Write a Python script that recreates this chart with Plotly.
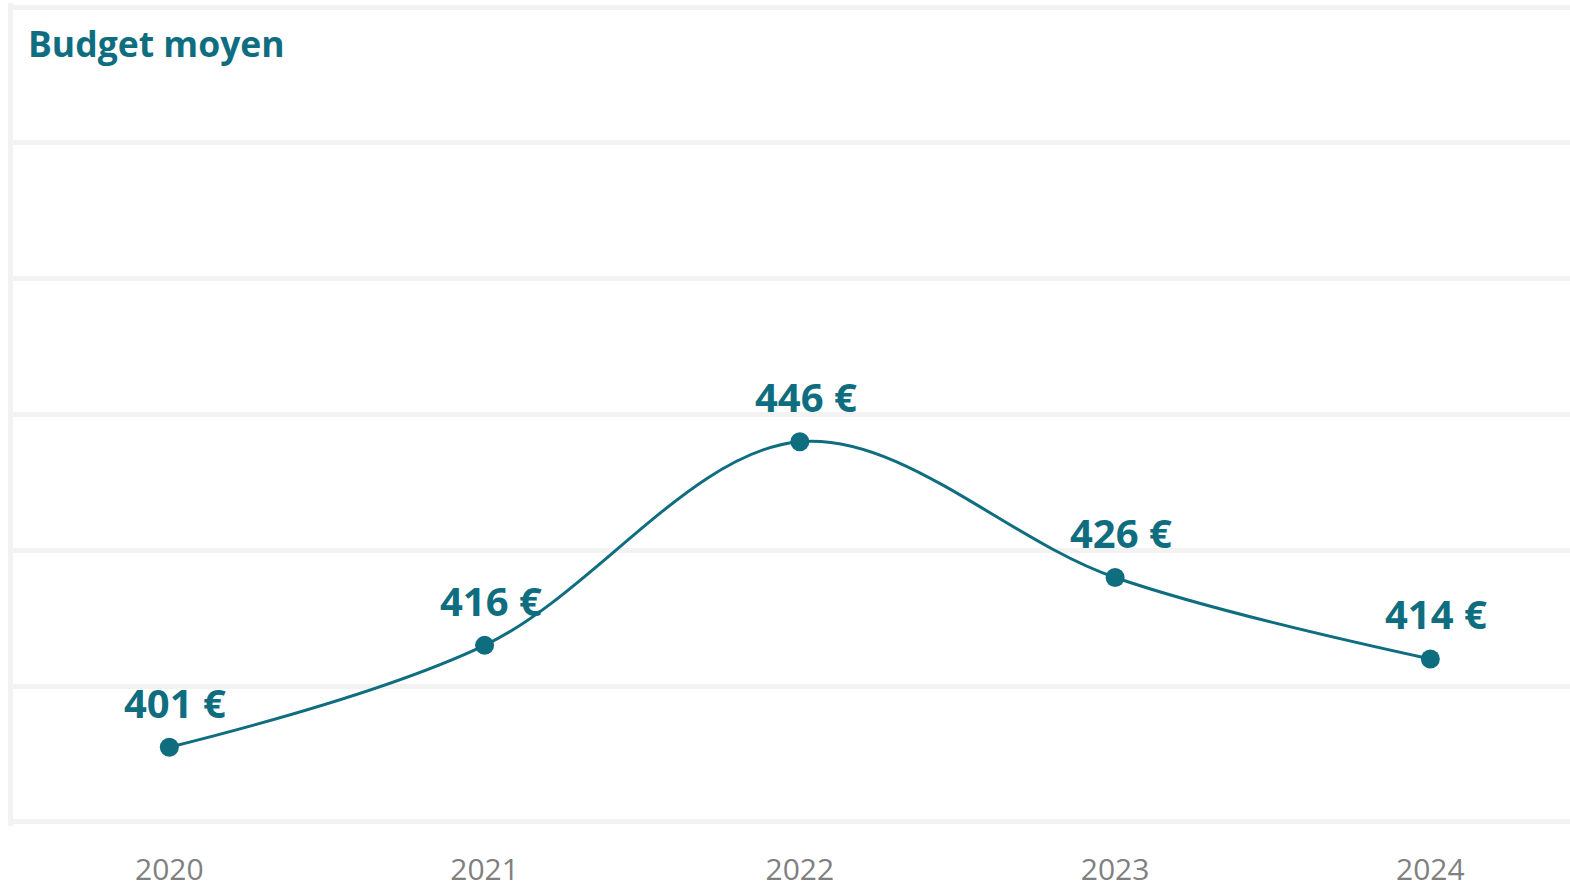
import plotly.graph_objects as go

years = ["2020", "2021", "2022", "2023", "2024"]
budget = [401, 416, 446, 426, 414]
labels = ["401 €", "416 €", "446 €", "426 €", "414 €"]
title_text = "Budget moyen"

TEAL = "#0f6d80"
GRID = "#f2f2f2"
FONT = "Open Sans"

fig = go.Figure()
fig.add_trace(go.Scatter(
    x=years, y=budget, mode="lines+markers",
    line=dict(color=TEAL, width=3, shape="spline", smoothing=1.0),
    marker=dict(color=TEAL, size=19),
    hoverinfo="skip", showlegend=False,
))

for i, (v, t) in enumerate(zip(budget, labels)):
    fig.add_annotation(x=i, y=v, xref="x", yref="y", text="<b>%s</b>" % t,
                       showarrow=False, xshift=6, yshift=45,
                       font=dict(family=FONT, size=40, color=TEAL))

fig.update_layout(
    width=1570, height=883,
    margin=dict(l=13, r=0, t=3, b=57),
    paper_bgcolor="white", plot_bgcolor="white",
    title=dict(text="<b>%s</b>" % title_text, xref="container", yref="container",
               x=28/1570, y=1-45/883, xanchor="left", yanchor="middle",
               font=dict(family=FONT, size=35.5, color=TEAL)),
    xaxis=dict(type="category", range=[-0.496, 4.443], showgrid=False,
               showline=False, zeroline=False, automargin=False,
               tickfont=dict(family=FONT, size=30, color="#808080"),
               ticks="", ticklabelstandoff=23),
    yaxis=dict(range=[389.4, 510.6], tick0=390, dtick=20, showgrid=True,
               gridcolor=GRID, gridwidth=5, zeroline=False, automargin=False,
               showticklabels=False, ticks="",
               showline=True, linecolor=GRID, linewidth=5),
)

fig.write_html("out.html", config={"displayModeBar": False},
               post_script="document.body.style.margin='0';document.body.style.overflow='hidden';")
